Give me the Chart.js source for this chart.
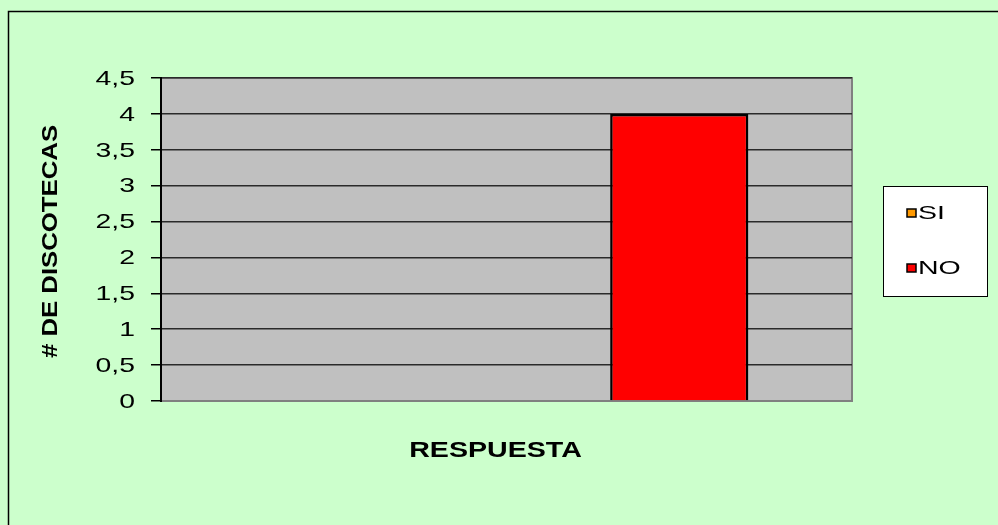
<!DOCTYPE html>
<html>
<head>
<meta charset="utf-8">
<script src="https://cdn.jsdelivr.net/npm/chart.js@4.4.1/dist/chart.umd.min.js"></script>
<style>
  html, body { margin: 0; padding: 0; background: #CCFFCC; }
  #wrap { width: 998px; height: 525px; position: relative; }
</style>
</head>
<body>
<div id="wrap"><canvas id="c" width="998" height="525"></canvas></div>
<script>
const categories = ["SI", "NO"];
const values = [0, 4];
const barColors = ["#FF9900", "#FF0000"];
const yTicks = [0, 0.5, 1, 1.5, 2, 2.5, 3, 3.5, 4, 4.5];
const yTitle = "# DE DISCOTECAS";
const xTitle = "RESPUESTA";

const FONT = "'Liberation Sans', Arial, sans-serif";

// draw text stretched horizontally (the reference text is wide)
function wideText(ctx, text, x, y, font, sx, align, rot) {
  ctx.save();
  ctx.translate(x, y);
  if (rot) ctx.rotate(rot);
  ctx.scale(sx, 1);
  ctx.font = font;
  ctx.textBaseline = 'middle';
  ctx.textAlign = align || 'center';
  ctx.fillStyle = '#000';
  ctx.fillText(text, 0, 0);
  ctx.restore();
}

const bgPlugin = {
  id: 'bg',
  beforeDraw(chart) {
    const ctx = chart.ctx;
    const a = chart.chartArea;
    ctx.save();
    ctx.fillStyle = '#CCFFCC';
    ctx.fillRect(0, 0, chart.width, chart.height);
    ctx.strokeStyle = '#000';
    ctx.lineWidth = 1.5;
    ctx.strokeRect(8.5, 11.5, chart.width + 20, chart.height + 20);
    ctx.fillStyle = '#C0C0C0';
    ctx.fillRect(a.left, a.top, a.right - a.left, a.bottom - a.top);
    ctx.strokeStyle = '#808080';
    ctx.lineWidth = 2;
    ctx.strokeRect(a.left, a.top, a.right - a.left, a.bottom - a.top);
    ctx.restore();
  },
  afterDraw(chart) {
    const ctx = chart.ctx;
    const a = chart.chartArea;
    const ys = chart.scales.y;
    ctx.save();
    // y tick labels, placed by the library's scale
    yTicks.forEach(v => {
      const py = ys.getPixelForValue(v);
      wideText(ctx, String(v).replace('.', ','), 135, py + 1, '21px ' + FONT, 1.35, 'right');
    });
    // axis titles
    wideText(ctx, xTitle, (a.left + a.right) / 2 - 11, 451, 'bold 22px ' + FONT, 1.3, 'center');
    wideText(ctx, yTitle, 51, (a.top + a.bottom) / 2 + 2, 'bold 22px ' + FONT, 1.17, 'center', -Math.PI / 2);

    // legend box
    const lx = 883, ly = 186, lw = 104, lh = 110;
    ctx.fillStyle = '#FFFFFF';
    ctx.fillRect(lx, ly, lw, lh);
    ctx.strokeStyle = '#000';
    ctx.lineWidth = 1;
    ctx.strokeRect(lx + 0.5, ly + 0.5, lw, lh);
    const rows = [213, 268];
    categories.forEach((cat, i) => {
      const y = rows[i];
      ctx.fillStyle = barColors[i];
      ctx.fillRect(907, y - 4, 9, 8);
      ctx.strokeStyle = '#000';
      ctx.lineWidth = 1.5;
      ctx.strokeRect(907, y - 4, 9, 8);
      wideText(ctx, cat, 918, y + 1, '19px ' + FONT, 1.5, 'left');
    });
    // left axis line
    ctx.strokeStyle = '#000';
    ctx.lineWidth = 2;
    ctx.beginPath();
    ctx.moveTo(a.left, a.top - 1);
    ctx.lineTo(a.left, a.bottom + 1);
    ctx.stroke();
    ctx.restore();
  }
};

new Chart(document.getElementById('c'), {
  type: 'bar',
  data: {
    labels: categories,
    datasets: [{
      data: values,
      backgroundColor: barColors,
      borderColor: '#000',
      borderWidth: 2.5,
      barPercentage: 0.4,
      categoryPercentage: 1.0
    }]
  },
  options: {
    responsive: false,
    animation: false,
    devicePixelRatio: 1,
    layout: { padding: { left: 0, right: 146, top: 78, bottom: 0 } },
    plugins: { legend: { display: false }, tooltip: { enabled: false } },
    scales: {
      x: {
        grid: { display: false, drawTicks: false },
        border: { display: true, color: '#808080', width: 2 },
        ticks: { display: false },
        title: { display: false },
        afterFit(scale) { scale.height = 124; }
      },
      y: {
        min: 0, max: 4.5,
        afterBuildTicks(scale) { scale.ticks = yTicks.map(v => ({ value: v })); },
        grid: { color: '#2a2a2a', lineWidth: 1.5, tickLength: 10, drawTicks: true, tickColor: '#000', tickWidth: 1.5 },
        border: { display: false },
        ticks: { display: false },
        title: { display: false },
        afterFit(scale) { scale.width = 161; }
      }
    }
  },
  plugins: [bgPlugin]
});
</script>
</body>
</html>
